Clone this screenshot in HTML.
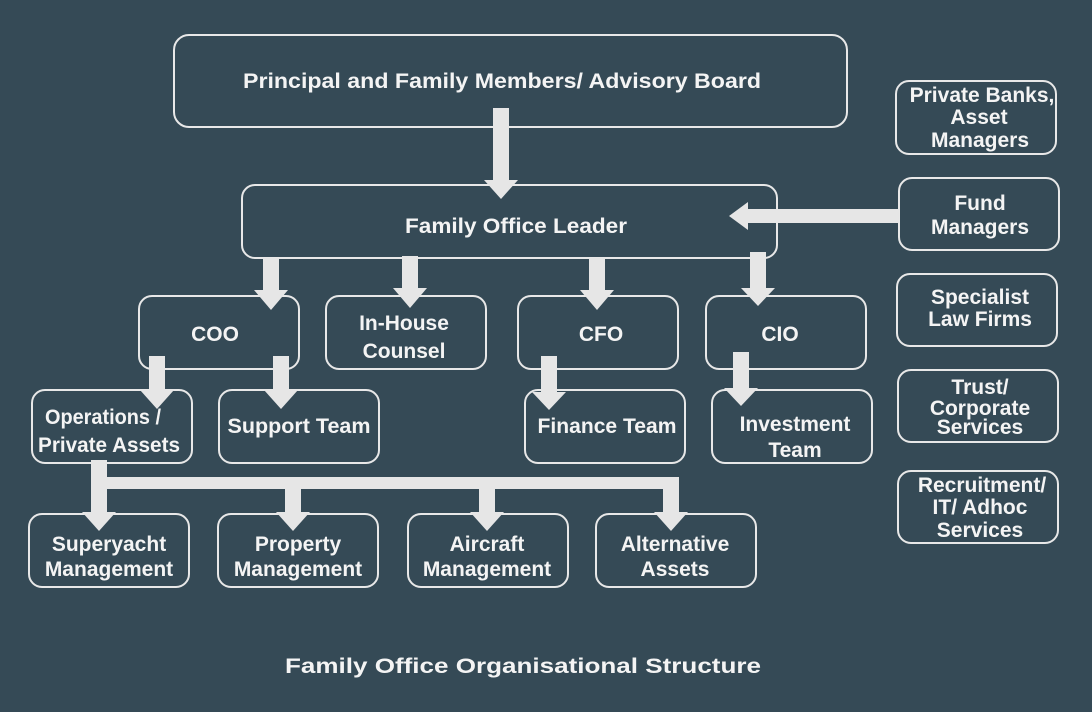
<!DOCTYPE html>
<html><head><meta charset="utf-8"><style>
html,body{margin:0;padding:0;background:#354a56;}
svg{display:block}
text{font-family:"Liberation Sans",sans-serif;font-weight:bold;fill:#f4f4f4;text-anchor:middle;font-size:21px}
</style></head><body>
<svg width="1092" height="712" viewBox="0 0 1092 712">
<rect width="1092" height="712" fill="#354a56"/>
<g fill="none" stroke="#e8e8e8" stroke-width="2">
<rect x="174" y="35" width="673" height="92" rx="15"/>
<rect x="242" y="185" width="535" height="73" rx="13"/>
<rect x="139" y="296" width="160" height="73" rx="13"/>
<rect x="326" y="296" width="160" height="73" rx="13"/>
<rect x="518" y="296" width="160" height="73" rx="13"/>
<rect x="706" y="296" width="160" height="73" rx="13"/>
<rect x="32" y="390" width="160" height="73" rx="13"/>
<rect x="219" y="390" width="160" height="73" rx="13"/>
<rect x="525" y="390" width="160" height="73" rx="13"/>
<rect x="712" y="390" width="160" height="73" rx="13"/>
<rect x="29" y="514" width="160" height="73" rx="13"/>
<rect x="218" y="514" width="160" height="73" rx="13"/>
<rect x="408" y="514" width="160" height="73" rx="13"/>
<rect x="596" y="514" width="160" height="73" rx="13"/>
<rect x="896" y="81" width="160" height="73" rx="13"/>
<rect x="899" y="178" width="160" height="72" rx="13"/>
<rect x="897" y="274" width="160" height="72" rx="13"/>
<rect x="898" y="370" width="160" height="72" rx="13"/>
<rect x="898" y="471" width="160" height="72" rx="13"/>
</g>
<g fill="#e6e6e6">
<path d="M493 108H509V180H518L501 199L484 180H493Z"/>
<path d="M263 258H279V290H288L271 310L254 290H263Z"/>
<path d="M402 256H418V288H427L410 308L393 288H402Z"/>
<path d="M589 258H605V290H614L597 310L580 290H589Z"/>
<path d="M750 252H766V288H775L758 306L741 288H750Z"/>
<path d="M149 356H165V390H174L157 409L140 390H149Z"/>
<path d="M273 356H289V390H298L281 409L264 390H273Z"/>
<path d="M541 356H557V392H566L549 410L532 392H541Z"/>
<path d="M733 352H749V388H758L741 406L724 388H733Z"/>
<rect x="91" y="460" width="16" height="29"/>
<rect x="91" y="477" width="586" height="12"/>
<path d="M91 477H107V512H116L99 531L82 512H91Z"/>
<path d="M285 477H301V512H310L293 531L276 512H285Z"/>
<path d="M479 477H495V512H504L487 531L470 512H479Z"/>
<path d="M663 477H679V512H688L671 531L654 512H663Z"/>
<path d="M899 209V223H748V230L729 216L748 202V209Z"/>
</g>
<text x="502" y="88" font-size="23" textLength="518" lengthAdjust="spacingAndGlyphs">Principal and Family Members/ Advisory Board</text>
<text x="516" y="233" font-size="23" textLength="222" lengthAdjust="spacingAndGlyphs">Family Office Leader</text>
<text x="215" y="341" font-size="23">COO</text>
<text x="404" y="330">In-House</text><text x="404" y="358">Counsel</text>
<text x="601" y="341" font-size="23">CFO</text>
<text x="780" y="341" font-size="23">CIO</text>
<text x="103" y="424" textLength="116" lengthAdjust="spacingAndGlyphs">Operations /</text><text x="109" y="452" textLength="142" lengthAdjust="spacingAndGlyphs">Private Assets</text>
<text x="299" y="433" textLength="143" lengthAdjust="spacingAndGlyphs">Support Team</text>
<text x="607" y="433" textLength="139" lengthAdjust="spacingAndGlyphs">Finance Team</text>
<text x="795" y="431">Investment</text><text x="795" y="457">Team</text>
<text x="109" y="551">Superyacht</text><text x="109" y="576">Management</text>
<text x="298" y="551">Property</text><text x="298" y="576">Management</text>
<text x="487" y="551">Aircraft</text><text x="487" y="576">Management</text>
<text x="675" y="551">Alternative</text><text x="675" y="576">Assets</text>
<text x="982" y="102">Private Banks,</text><text x="979" y="124">Asset</text><text x="980" y="147">Managers</text>
<text x="980" y="210">Fund</text><text x="980" y="234">Managers</text>
<text x="980" y="304">Specialist</text><text x="980" y="326">Law Firms</text>
<text x="980" y="394">Trust/</text><text x="980" y="415">Corporate</text><text x="980" y="434">Services</text>
<text x="982" y="492">Recruitment/</text><text x="980" y="514">IT/ Adhoc</text><text x="980" y="537">Services</text>
<text x="523" y="673" font-size="24" textLength="476" lengthAdjust="spacingAndGlyphs">Family Office Organisational Structure</text>
</svg>
</body></html>
